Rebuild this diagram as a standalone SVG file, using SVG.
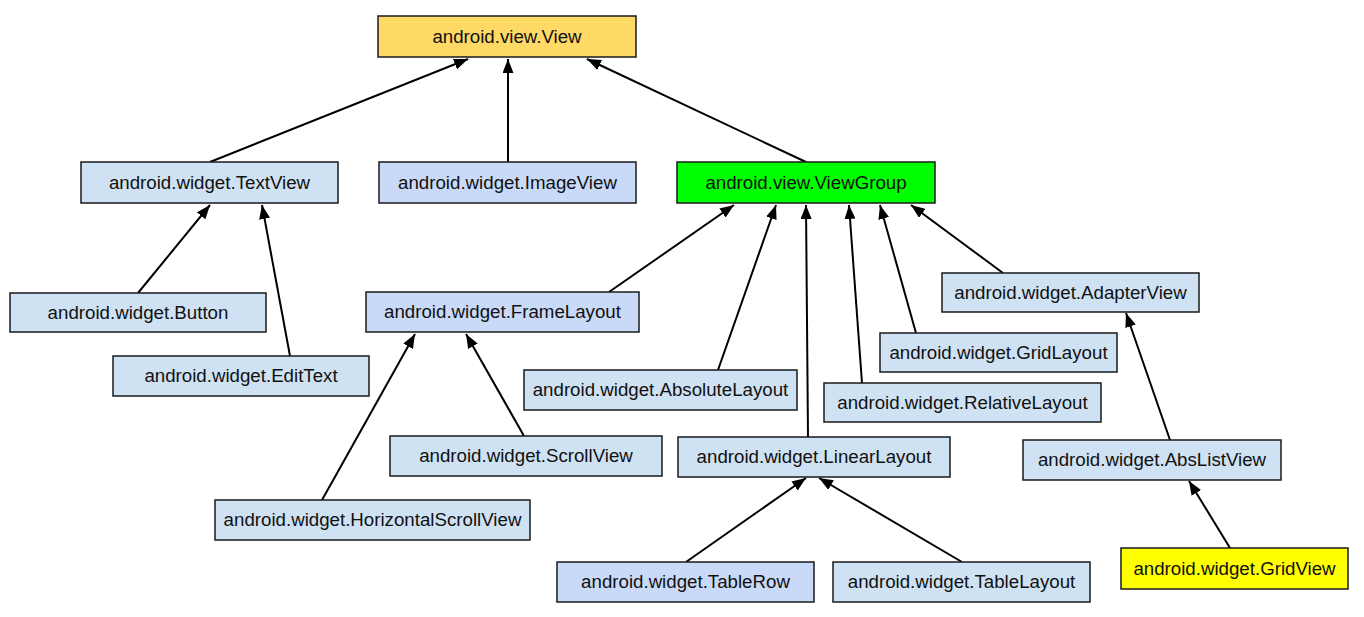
<svg xmlns="http://www.w3.org/2000/svg" width="1364" height="617" viewBox="0 0 1364 617">
<style>
.box{stroke:#1a1a1a;stroke-width:1.5}
.blue{fill:#cfe2f3}
.lav{fill:#c9daf8}
.t{font-family:"Liberation Sans",Arial,sans-serif;font-size:18.7px;fill:#111;text-anchor:middle}
.c line{stroke:#000;stroke-width:2;marker-end:url(#ah)}
</style>
<defs>
<marker id="ah" markerUnits="userSpaceOnUse" markerWidth="15" markerHeight="11" refX="14" refY="5.5" orient="auto">
<path d="M0,0 L14,5.5 L0,11 z" fill="#000"/>
</marker>
</defs>
<rect width="1364" height="617" fill="#fff"/>
<g class="c" id="connectors">
<line x1="210" y1="162" x2="468" y2="59"/>
<line x1="508" y1="162" x2="508" y2="59"/>
<line x1="806" y1="162" x2="587" y2="59"/>
<line x1="138" y1="293" x2="210" y2="205"/>
<line x1="290" y1="356" x2="262" y2="205"/>
<line x1="609" y1="292" x2="734" y2="205"/>
<line x1="718" y1="370" x2="776" y2="205"/>
<line x1="808" y1="437" x2="806" y2="205"/>
<line x1="862" y1="383" x2="849" y2="205"/>
<line x1="916" y1="333" x2="880" y2="205"/>
<line x1="1003" y1="273" x2="911" y2="205"/>
<line x1="322" y1="500" x2="415" y2="334"/>
<line x1="524" y1="436" x2="466" y2="334"/>
<line x1="686" y1="562" x2="806" y2="478"/>
<line x1="962" y1="562" x2="819" y2="478"/>
<line x1="1170" y1="440" x2="1126" y2="313"/>
<line x1="1230" y1="548" x2="1189" y2="481"/>
</g>
<g id="view"><rect class="box" x="378" y="16" width="258" height="41" fill="#ffd966"/><text class="t" x="507" y="43">android.view.View</text></g>
<g id="textview"><rect class="box blue" x="81" y="162" width="257" height="41"/><text class="t" x="209.5" y="189">android.widget.TextView</text></g>
<g id="imageview"><rect class="box lav" x="379" y="162" width="257" height="41"/><text class="t" x="507.5" y="189">android.widget.ImageView</text></g>
<g id="viewgroup"><rect class="box" x="677" y="162" width="258" height="41" fill="#00ff00"/><text class="t" x="806" y="189">android.view.ViewGroup</text></g>
<g id="button"><rect class="box blue" x="10" y="293" width="256" height="39"/><text class="t" x="138" y="319">android.widget.Button</text></g>
<g id="edittext"><rect class="box blue" x="113" y="356" width="256" height="40"/><text class="t" x="241" y="382">android.widget.EditText</text></g>
<g id="framelayout"><rect class="box lav" x="366" y="292" width="273" height="40"/><text class="t" x="502.5" y="318">android.widget.FrameLayout</text></g>
<g id="absolutelayout"><rect class="box blue" x="524" y="370" width="273" height="40"/><text class="t" x="660.5" y="396">android.widget.AbsoluteLayout</text></g>
<g id="scrollview"><rect class="box blue" x="390" y="436" width="272" height="40"/><text class="t" x="526" y="462">android.widget.ScrollView</text></g>
<g id="hscrollview"><rect class="box blue" x="215" y="500" width="315" height="40"/><text class="t" x="372.5" y="526">android.widget.HorizontalScrollView</text></g>
<g id="linearlayout"><rect class="box blue" x="678" y="437" width="272" height="40"/><text class="t" x="814" y="463">android.widget.LinearLayout</text></g>
<g id="tablerow"><rect class="box lav" x="557" y="562" width="257" height="40"/><text class="t" x="685.5" y="588">android.widget.TableRow</text></g>
<g id="tablelayout"><rect class="box blue" x="833" y="562" width="257" height="40"/><text class="t" x="961.5" y="588">android.widget.TableLayout</text></g>
<g id="gridlayout"><rect class="box blue" x="880" y="333" width="237" height="39"/><text class="t" x="998.5" y="359">android.widget.GridLayout</text></g>
<g id="relativelayout"><rect class="box blue" x="824" y="383" width="277" height="39"/><text class="t" x="962.5" y="409">android.widget.RelativeLayout</text></g>
<g id="adapterview"><rect class="box blue" x="942" y="273" width="257" height="39"/><text class="t" x="1070.5" y="299">android.widget.AdapterView</text></g>
<g id="abslistview"><rect class="box blue" x="1023" y="440" width="258" height="40"/><text class="t" x="1152" y="466">android.widget.AbsListView</text></g>
<g id="gridview"><rect class="box" x="1121" y="548" width="227" height="41" fill="#ffff00"/><text class="t" x="1234.5" y="575">android.widget.GridView</text></g>
</svg>
